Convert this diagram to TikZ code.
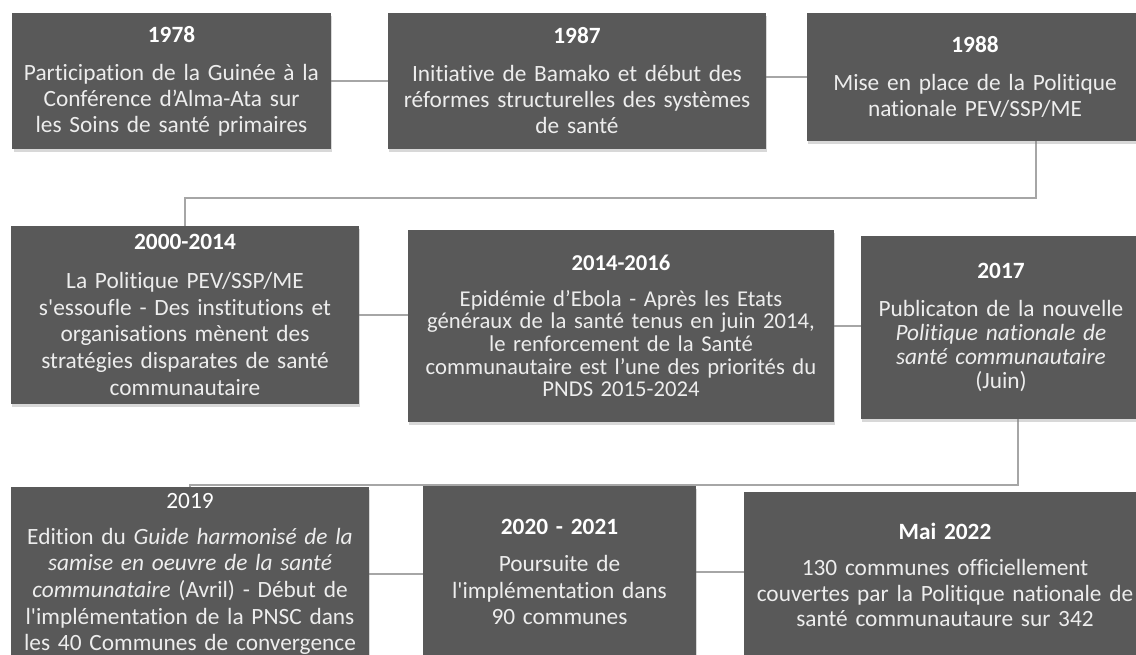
\documentclass[tikz,border=0pt]{standalone}
\usepackage{fontspec}
\setmainfont{Carlito}[Ligatures=NoCommon]
\usetikzlibrary{shadows}
\usetikzlibrary{backgrounds}
\definecolor{boxgray}{HTML}{595959}
\definecolor{linegray}{HTML}{A6A6A6}
\definecolor{bodytxt}{HTML}{EDEDED}
\newcommand\yr[1]{{\bfseries\color{white}#1}}

\begin{document}
\begin{tikzpicture}[x=0.75pt,y=-0.75pt,
	event/.style={fill=boxgray, text=bodytxt, align=center, inner sep=0pt,
		drop shadow={shadow xshift=1pt, shadow yshift=-2.5pt, opacity=0.3},
		font=\fontsize{17.5}{19.5}\selectfont},
	evsize/.style 2 args={minimum width=#1, text width=#1, minimum height=#2},
	link/.style={draw=linegray, line width=0.8pt}]
		\useasboundingbox (0,0) rectangle (1136,655);
		% first row
		\node[event, evsize={239pt}{102pt}] (b1) at (171.5,81) {\yr{1978}\\[9pt]
			Participation de la Guinée à la\\ Conférence d’Alma-Ata sur\\ les Soins de santé primaires};
		\node[event, evsize={283.5pt}{102pt}] (b2) at (577,81) {\yr{1987}\\[9pt]
			Initiative de Bamako et début des\\ réformes structurelles des systèmes\\ de santé};
		\node[event, evsize={252pt}{96pt}] (b3) at (975,77) {\yr{1988}\\[9pt]
			Mise en place de la Politique\\ nationale PEV/SSP/ME};
		% second row
		\node[event, evsize={261pt}{133.5pt}, font=\fontsize{17.5}{20}\selectfont] (b4) at (185,315) {\yr{2000-2014}\\[9pt]
			La Politique PEV/SSP/ME\\ s\textquotesingle essoufle - Des institutions et\\ organisations mènent des\\ stratégies disparates de santé\\ communautaire};
		\node[event, evsize={319.5pt}{144pt}, font=\fontsize{17}{17}\selectfont] (b5) at (621,326) {\yr{2014-2016}\\[10pt]
			Epidémie d’Ebola - Après les Etats\\ généraux de la santé tenus en juin 2014,\\ le renforcement de la Santé\\ communautaire est l’une des priorités du\\ PNDS 2015-2024};
		\node[event, evsize={210pt}{137pt}, font=\fontsize{17.5}{18}\selectfont] (b6) at (1001,327.5) {\yr{2017}\\[10.5pt]
			Publicaton de la nouvelle\\ \textit{Politique nationale de}\\ \textit{santé communautaire}\\ (Juin)};
		% third row
		\node[event, evsize={268.5pt}{130.5pt}, font=\fontsize{17.5}{20}\selectfont] (b7) at (190,574) {{\color{white}2019}\\[7pt]
			Edition du \textit{Guide harmonisé de la}\\ \textit{samise en oeuvre de la santé}\\ \textit{communataire} (Avril) - Début de\\ l\textquotesingle implémentation de la PNSC dans\\ les 40 Communes de convergence};
		\node[event, evsize={204.75pt}{129pt}, font=\fontsize{17.5}{20}\selectfont] (b8) at (559.5,572) {\yr{2020 - 2021}\\[7.75pt]
			Poursuite de\\ l\textquotesingle implémentation dans\\ 90 communes};
		\node[event, evsize={301.5pt}{124.5pt}, font=\fontsize{17.5}{19.3}\selectfont] (b9) at (945,575) {\yr{Mai 2022}\\[7.7pt]
			130 communes officiellement\\ couvertes par la Politique nationale de\\ santé communautaure sur 342};
		% links
		\begin{scope}[on background layer]
			\fill[white] (0,0) rectangle (1136,655);
			\draw[link] (b1.east) -- (b2.west);
			\draw[link] (b3.west -| b2.east) -- (b3.west);
			\coordinate (k1) at (1036,198);
			\draw[link] (b3.south -| k1) -- (k1) -| (b4.north);
			\draw[link] (b4.east) -- (b4.east -| b5.west);
			\draw[link] (b5.east) -- (b5.east -| b6.west);
			\coordinate (k2) at (1018,485);
			\draw[link] (b6.south -| k2) -- (k2) -| (b7.north);
			\draw[link] (b7.east) -- (b7.east -| b8.west);
			\draw[link] (b8.east) -- (b8.east -| b9.west);
		\end{scope}
\end{tikzpicture}
\end{document}
